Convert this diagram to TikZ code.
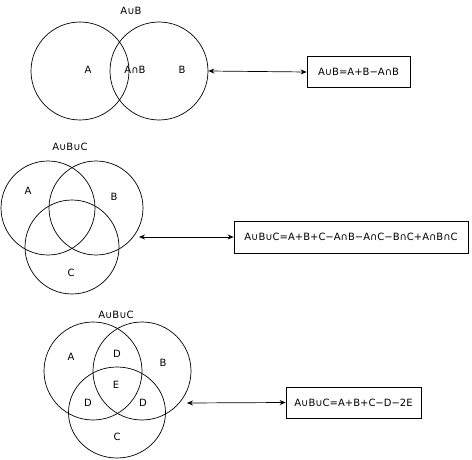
\documentclass[tikz,border=0pt]{standalone}
\usepackage{fontspec}
\setmainfont{DejaVu Sans}
\usetikzlibrary{positioning, shapes.geometric, arrows.meta}

\begin{document}
\begin{tikzpicture}[
    x=1pt, y=-1pt,
    set/.style={draw, circle, line width=0.7pt, minimum size=#1, inner sep=0pt},
    set/.default=98pt,
    lbl/.style={font=\fontsize{10}{12}\selectfont, inner sep=1pt},
    formula/.style={draw, line width=0.7pt, minimum height=31pt, inner sep=0pt,
                    font=\fontsize{10}{12}\selectfont, align=center},
    arrow/.style={{Stealth[length=6pt,width=5pt]}-{Stealth[length=6pt,width=5pt]}, line width=0.7pt},
]
\useasboundingbox (0,0) rectangle (472,460);

% Two sets
\node[lbl] (t1) at (131,11) {A∪B};
\node[set] (a1) at (80,71) {};
\node[set] (b1) at (159,71) {};
\node[lbl] at (88,70) {A};
\node[lbl] at (135,70) {A∩B};
\node[lbl] at (182,70) {B};
\node[formula, minimum width=103pt] (f1) at (358.5,72) {A∪B=A+B−A∩B};
\draw[arrow] (b1.east) -- (f1.west);

% Three sets
\node[lbl] (t2) at (70,147) {A∪B∪C};
\node[set=94pt] (a2) at (48,208) {};
\node[set=94pt] (b2) at (96,208) {};
\node[set=94pt] (c2) at (72,247) {};
\node[lbl] at (28,191) {A};
\node[lbl] at (114,197) {B};
\node[lbl] at (71,273) {C};
\node[formula, minimum width=234pt, minimum height=32pt] (f2) at (351,237)
    {A∪B∪C=A+B+C−A∩B−A∩C−B∩C+A∩B∩C};
\coordinate (s2) at (139,237);
\draw[arrow] (s2) -- (f2.west);

% Three sets, regions named
\node[lbl] (t3) at (116,315) {A∪B∪C};
\node[set] (a3) at (93,371) {};
\node[set] (b3) at (142,371) {};
\node[draw, ellipse, line width=0.7pt, minimum width=97pt, minimum height=91pt,
      inner sep=0pt] (c3) at (117,412.5) {};
\node[lbl] at (71,357) {A};
\node[lbl] at (117,354) {D};
\node[lbl] at (163,363) {B};
\node[lbl] at (116,385) {E};
\node[lbl] at (88,403) {D};
\node[lbl] at (143,403) {D};
\node[lbl] at (117,437) {C};
\node[formula, minimum width=135pt] (f3) at (353.5,402.5) {A∪B∪C=A+B+C−D−2E};
\coordinate (s3) at (187,403);
\draw[arrow] (s3) -- (f3.west);

\end{tikzpicture}
\end{document}
